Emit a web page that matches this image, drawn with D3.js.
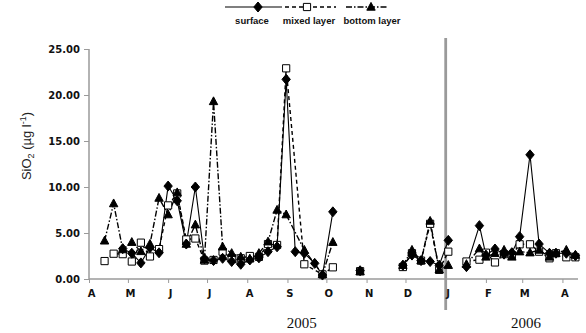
<!DOCTYPE html>
<html>
<head>
<meta charset="utf-8">
<script src="https://cdn.jsdelivr.net/npm/d3@7"></script>
<style>
  html, body { margin: 0; padding: 0; background: #fff; }
  svg { display: block; }
</style>
</head>
<body>
<svg id="chart" width="586" height="333"></svg>
<script>
// Sampling dates (weekly survey, with a break in Oct-Nov and early January)
const sampleDates = [
  "2005-04-13","2005-04-20","2005-04-27","2005-05-04","2005-05-11","2005-05-18","2005-05-25",
  "2005-06-01","2005-06-08","2005-06-15","2005-06-22","2005-06-29","2005-07-06","2005-07-13",
  "2005-07-20","2005-07-27","2005-08-03","2005-08-10","2005-08-17","2005-08-24","2005-08-31",
  "2005-09-07","2005-09-14","2005-09-22","2005-09-28","2005-10-06","2005-10-27","2005-11-29",
  "2005-12-06","2005-12-13","2005-12-20","2005-12-27","2006-01-03","2006-01-17","2006-01-27",
  "2006-02-01","2006-02-08","2006-02-15","2006-02-21","2006-02-27","2006-03-07","2006-03-14",
  "2006-03-22","2006-03-27","2006-04-04","2006-04-11"
];

// SiO2 (µg l-1) per layer; null = not sampled
const surface = [
  null, null, 3.3, 2.8, 1.75, 3.4, 2.85, 10.1, 8.5, 3.8,
  10.0, 2.2, 2.0, 2.25, 1.9, 1.6, 2.07, 2.3, 2.97, 3.5,
  21.7, 2.97, 2.8, 1.7, 0.43, 7.3, 0.9, 1.5, 2.6, 2.0,
  1.9, 1.5, 4.2, 1.34, 5.8, 2.6, 3.26, 2.7, 2.86, 4.6,
  13.5, 3.8, 2.8, 2.8, 2.8, 2.54
];
const mixedLayer = [
  1.95, 2.75, 2.7, 1.9, 3.95, 2.45, 3.25, 8.0, 9.3, 4.3,
  4.4, 2.0, 2.07, 2.97, 2.25, 2.25, 2.5, 2.4, 3.8, 3.7,
  22.9, null, 1.6, null, 0.5, 1.27, 0.85, 1.3, 2.8, 2.0,
  6.0, 1.0, 2.97, 1.9, 2.1, 2.86, 1.8, 2.7, 2.6, 3.77,
  3.77, 2.97, 2.25, 2.8, 2.36, 2.36
];
const bottomLayer = [
  4.15, 8.2, 3.2, 4.0, 3.0, 3.8, 8.8, 7.0, 9.4, 3.8,
  5.9, 2.07, 19.3, 3.5, 2.8, 2.4, 2.2, 2.8, 4.05, 7.5,
  7.0, null, 3.15, null, 0.5, 4.0, 0.8, 1.5, 3.15, 2.0,
  6.3, 1.0, 1.5, 1.6, 3.3, 2.4, 2.8, 3.15, 2.4, 2.97,
  2.86, 3.15, 2.4, 2.8, 3.15, 2.6
];

// Lines are not continued past these sampling dates
const campaignEnds = ["2005-10-06", "2005-10-27", "2006-01-03"];

const monthLabels = ["A","M","J","J","A","S","O","N","D","J","F","M","A"];
const yTicks = [0, 5, 10, 15, 20, 25];
const yearLabels = ["2005", "2006"];
const seriesNames = ["surface", "mixed layer", "bottom layer"];

const parse = d3.timeParse("%Y-%m-%d");
const dates = sampleDates.map(parse);
const ends = campaignEnds.map(parse);

const svg = d3.select("#chart");
const axisColor = "#9a9a9a";

const x = d3.scaleTime()
  .domain([new Date(2005, 3, 1), new Date(2006, 3, 13)])
  .range([89, 578]);
const y = d3.scaleLinear().domain([0, 25]).range([279, 49]);

const series = [
  { name: seriesNames[0], values: surface, dash: null, width: 1.1, marker: "diamond" },
  { name: seriesNames[1], values: mixedLayer, dash: "4,3", width: 1.4, marker: "square" },
  { name: seriesNames[2], values: bottomLayer, dash: "6,2,1.5,2", width: 1.4, marker: "triangle" }
];

const markerPath = {
  diamond: "M0,-5L4.2,0L0,5L-4.2,0Z",
  square: "M-3.6,-3.6H3.6V3.6H-3.6Z",
  triangle: "M0,-4.6L4.2,3.2H-4.2Z"
};
const markerFill = { diamond: "#000", square: "#fff", triangle: "#000" };

// ---- year boundary (drawn beneath the axis labels) ----
svg.append("line")
  .attr("x1", x(new Date(2006, 0, 1))).attr("x2", x(new Date(2006, 0, 1)))
  .attr("y1", 38).attr("y2", 310)
  .attr("stroke", "#9a9a9a").attr("stroke-width", 2.8);

// ---- axes ----
const monthTicks = d3.timeMonth.range(new Date(2005, 3, 1), new Date(2006, 3, 2));

const xAxis = svg.append("g").attr("transform", `translate(0,${y(0)})`)
  .call(d3.axisBottom(x).tickValues(monthTicks).tickSize(4).tickPadding(7)
    .tickFormat((d, i) => monthLabels[i]));
xAxis.select(".domain").attr("stroke", axisColor).attr("stroke-width", 1.5)
  .attr("d", `M${x.range()[0]},0H${x.range()[1]}`);
xAxis.selectAll(".tick line").attr("stroke", axisColor);
xAxis.selectAll(".tick text")
  .attr("dx", 2)
  .attr("font-family", "DejaVu Sans, sans-serif").attr("font-weight", "bold")
  .attr("font-size", 10).attr("fill", "#111");

const yAxis = svg.append("g").attr("transform", `translate(${x.range()[0]},0)`)
  .call(d3.axisLeft(y).tickValues(yTicks).tickSize(5).tickPadding(4)
    .tickFormat(d3.format(".2f")));
yAxis.select(".domain").attr("stroke", axisColor).attr("stroke-width", 1.5)
  .attr("d", `M0,${y(25)}V${y(0)}`);
yAxis.selectAll(".tick line").attr("stroke", axisColor);
yAxis.selectAll(".tick text")
  .attr("font-family", "DejaVu Sans, sans-serif").attr("font-weight", "bold")
  .attr("font-size", 10).attr("fill", "#111");

// year labels below the month letters
const yearPos = [new Date(2005, 8, 12), new Date(2006, 2, 4)];
svg.selectAll("text.year").data(yearLabels).join("text")
  .attr("class", "year")
  .attr("x", (d, i) => x(yearPos[i])).attr("y", 328)
  .attr("text-anchor", "middle")
  .attr("font-family", "Liberation Serif, serif").attr("font-size", 15)
  .attr("fill", "#111").text(d => d);

// y-axis title
const yTitle = svg.append("text")
  .attr("transform", "translate(31,146) rotate(-90)")
  .attr("text-anchor", "middle")
  .attr("font-family", "Liberation Sans, Arial, sans-serif").attr("font-size", 13)
  .attr("fill", "#222");
yTitle.append("tspan").text("SiO");
yTitle.append("tspan").attr("font-size", 9).attr("dy", 3).text("2");
yTitle.append("tspan").attr("dy", -3).text(" (µg l");
yTitle.append("tspan").attr("font-size", 9).attr("dy", -5).text("-1");
yTitle.append("tspan").attr("dy", 5).text(")");

// ---- series ----
function segmentOf(d) { return ends.filter(e => e < d).length; }

const line = d3.line().x(p => x(p.date)).y(p => y(p.value));

series.forEach(s => {
  s.points = dates.map((d, i) => ({ date: d, value: s.values[i], seg: segmentOf(d) }))
    .filter(p => p.value != null);
});

const lineLayer = svg.append("g");
series.forEach(s => {
  const segs = d3.groups(s.points, p => p.seg).map(g => g[1]);
  lineLayer.selectAll(null).data(segs.filter(g => g.length > 1)).join("path")
    .attr("d", line)
    .attr("fill", "none").attr("stroke", "#000")
    .attr("stroke-width", s.width)
    .attr("stroke-dasharray", s.dash);
});

// markers: squares first, then triangles, then diamonds on top
const markerOrder = [series[1], series[2], series[0]];
markerOrder.forEach(s => {
  svg.append("g").selectAll("path").data(s.points).join("path")
    .attr("transform", p => `translate(${x(p.date)},${y(p.value)})`)
    .attr("d", markerPath[s.marker])
    .attr("fill", markerFill[s.marker])
    .attr("stroke", "#000").attr("stroke-width", 1);
});

// ---- legend ----
const legendItems = [
  { s: series[0], x1: 225, x2: 282, mx: 258, tx: 252 },
  { s: series[1], x1: 285, x2: 336, mx: 307, tx: 309 },
  { s: series[2], x1: 346, x2: 388, mx: 371, tx: 372 }
];
const legend = svg.append("g");
legendItems.forEach(it => {
  legend.append("line").attr("x1", it.x1).attr("x2", it.x2).attr("y1", 7).attr("y2", 7)
    .attr("stroke", "#000").attr("stroke-width", it.s.width)
    .attr("stroke-dasharray", it.s.dash);
  legend.append("path").attr("transform", `translate(${it.mx},7)`)
    .attr("d", markerPath[it.s.marker]).attr("fill", markerFill[it.s.marker])
    .attr("stroke", "#000");
  legend.append("text").attr("x", it.tx).attr("y", 24).attr("text-anchor", "middle")
    .attr("font-family", "Liberation Sans, Arial, sans-serif").attr("font-weight", "bold")
    .attr("font-size", 9.5).attr("fill", "#111").text(it.s.name);
});
</script>
</body>
</html>
